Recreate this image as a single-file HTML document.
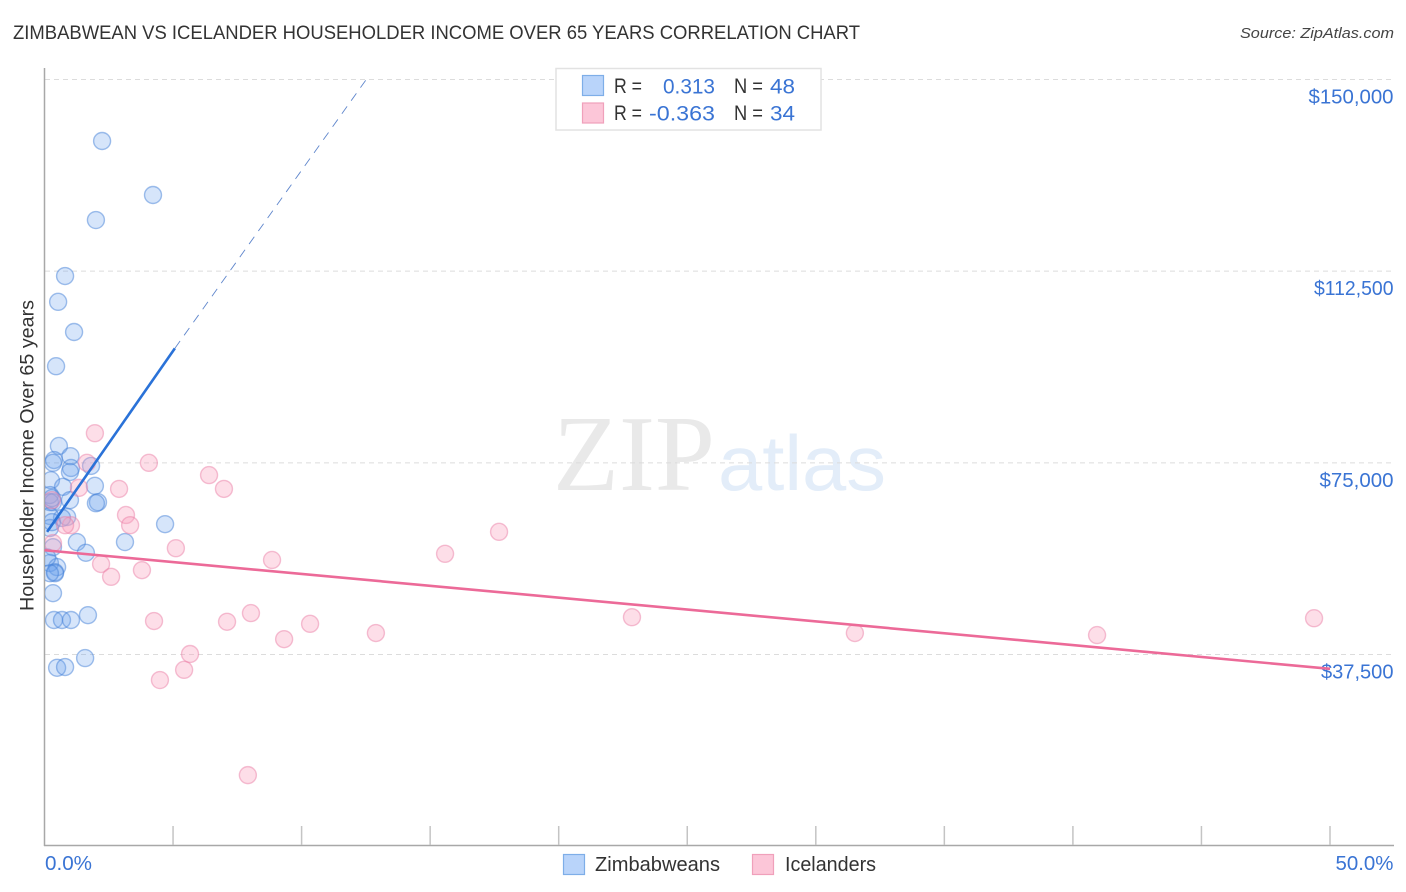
<!DOCTYPE html>
<html><head><meta charset="utf-8"><title>Zimbabwean vs Icelander Householder Income</title>
<style>
html,body{margin:0;padding:0;background:#fff}
svg{display:block;font-family:"Liberation Sans",sans-serif}
</style></head>
<body>
<svg id="chart" width="1406" height="892" viewBox="0 0 1406 892" xmlns="http://www.w3.org/2000/svg">
<defs><clipPath id="plot-clip"><rect x="45" y="60" width="1350" height="785"/></clipPath></defs>
<text x="13" y="39" font-size="19" fill="#333" textLength="847" lengthAdjust="spacingAndGlyphs">ZIMBABWEAN VS ICELANDER HOUSEHOLDER INCOME OVER 65 YEARS CORRELATION CHART</text>
<text x="1394" y="38" font-size="15" font-style="italic" fill="#444" text-anchor="end" textLength="154" lengthAdjust="spacingAndGlyphs">Source: ZipAtlas.com</text>
<text x="553" y="490" font-size="108" fill="#e9e9e9" font-family="'Liberation Serif',serif" textLength="162" lengthAdjust="spacingAndGlyphs">ZIP</text>
<text x="718" y="490" font-size="78" fill="#e3edf9" textLength="168" lengthAdjust="spacingAndGlyphs">atlas</text>
<g id="grid"></g>
<g id="axes"></g>
<g id="blue" clip-path="url(#plot-clip)"></g>
<g id="pink" clip-path="url(#plot-clip)"></g>
<g id="trends"></g>
<text transform="translate(33.5,611) rotate(-90)" font-size="19" fill="#333" textLength="311" lengthAdjust="spacingAndGlyphs">Householder Income Over 65 years</text>
<g>
<rect x="556" y="68.5" width="265" height="61.5" fill="#fff" stroke="#e2e2e2" stroke-width="1.5"/>
<rect x="582.5" y="75.5" width="21" height="20" fill="#b9d4fa" stroke="#7eaee8" stroke-width="1.2"/>
<rect x="582.5" y="103" width="21" height="20" fill="#fcc6d8" stroke="#f0a0bb" stroke-width="1.2"/>
<g font-size="21" fill="#333">
<text x="614" y="93" textLength="28" lengthAdjust="spacingAndGlyphs">R =</text>
<text x="614" y="120" textLength="28" lengthAdjust="spacingAndGlyphs">R =</text>
<text x="734" y="93" textLength="29" lengthAdjust="spacingAndGlyphs">N =</text>
<text x="734" y="120" textLength="29" lengthAdjust="spacingAndGlyphs">N =</text>
</g>
<g font-size="21.5" fill="#3a74d4">
<text x="663" y="93.5" textLength="52" lengthAdjust="spacingAndGlyphs">0.313</text>
<text x="649" y="120.5" textLength="66" lengthAdjust="spacingAndGlyphs">-0.363</text>
<text x="770" y="93.5" textLength="25" lengthAdjust="spacingAndGlyphs">48</text>
<text x="770" y="120.5" textLength="25" lengthAdjust="spacingAndGlyphs">34</text>
</g>
</g>
<g>
<rect x="563.5" y="854.5" width="21" height="20" fill="#b9d4fa" stroke="#7eaee8" stroke-width="1.2"/>
<text x="595" y="871" font-size="20" fill="#333" textLength="125" lengthAdjust="spacingAndGlyphs">Zimbabweans</text>
<rect x="752.5" y="854.5" width="21" height="20" fill="#fcc6d8" stroke="#f0a0bb" stroke-width="1.2"/>
<text x="785" y="871" font-size="20" fill="#333" textLength="91" lengthAdjust="spacingAndGlyphs">Icelanders</text>
</g>
<script>
const yTicks = [37.5, 75, 112.5, 150];
const yTickLabels = ['$37,500', '$75,000', '$112,500', '$150,000'];
const xTicks = [5, 10, 15, 20, 25, 30, 35, 40, 45, 50];
const xEndLabels = ['0.0%', '50.0%'];
const blueX = [2.24,4.22,2.0,0.80,0.53,1.15,0.45,0.56,1.01,0.37,0.33,1.03,0.99,1.81,0.25,0.72,1.96,2.08,2.0,0.99,0.21,0.21,0.33,0.29,0.88,0.68,0.21,0.21,0.29,4.69,1.26,3.13,1.61,0.33,0.21,0.49,0.41,0.41,0.21,0.33,0.37,0.68,1.03,1.69,1.58,0.49,0.80,0.1];
const blueY = [137.97,127.4,122.5,111.55,106.5,100.6,93.9,78.3,76.3,75.55,75.0,74.0,73.2,74.4,71.6,70.3,70.5,67.3,67.1,67.7,68.7,67.3,67.3,68.1,64.4,64.2,64.6,62.25,63.4,63.0,59.5,59.5,57.4,58.5,55.4,54.6,53.6,53.4,53.4,49.5,44.25,44.25,44.25,45.2,36.8,34.9,35.05,56.5];
const pinkX = [1.96,1.65,4.06,6.4,2.9,1.34,6.98,3.17,3.33,1.03,0.8,5.11,0.33,2.2,2.59,3.79,0.29,4.26,5.66,5.43,4.49,8.85,8.03,7.1,9.32,10.33,12.89,15.58,17.68,22.85,31.52,40.94,49.38,7.91];
const pinkY = [80.8,75,75,72.6,69.9,70.1,69.9,64.8,62.8,62.8,62.8,58.3,59.3,55.2,52.7,54.0,67.7,44.05,37.6,34.5,32.5,56,45.6,43.9,40.5,43.5,41.7,57.2,61.5,44.8,41.7,41.3,44.6,13.9];
const blueTrendX = [0.1, 5.07];
const blueTrendY = [61.5, 97.4];
const blueDashX = [5.07, 12.5];
const blueDashY = [97.4, 149.9];
const pinkTrendX = [0, 50];
const pinkTrendY = [57.9, 34.7];

const NS = 'http://www.w3.org/2000/svg';
const xs = v => 44.5 + v * 25.71;
const ys = v => 654.5 - (v - 37.5) * 5.1111;
function labelWidth(s) {
  let w = 18.5;
  for (const ch of s.replace(/[$,]/g, '')) {
    w += ch === '0' ? 12 : ch === '1' ? 8 : ch === '7' ? 9 : 10.5;
  }
  return w;
}
function mk(parent, tag, props, text) {
  const el = document.createElementNS(NS, tag);
  for (const k in props) el.setAttribute(k, props[k]);
  if (text !== undefined) el.textContent = text;
  document.getElementById(parent).appendChild(el);
  return el;
}
yTicks.forEach(function (t, i) {
  const g = mk('grid', 'line', {x1: 45, x2: 1394, y1: ys(t), y2: ys(t), stroke: '#dcdcdc', 'stroke-width': 1, 'stroke-dasharray': '5 4'});
  
  
  const l = mk('axes', 'text', {x: 1393.5, y: ys(t) + 24, 'font-size': 20.5, fill: '#3a74d4', 'text-anchor': 'end', textLength: labelWidth(yTickLabels[i]), lengthAdjust: 'spacingAndGlyphs'}, yTickLabels[i]);
  
  
});
const yAxis = mk('axes', 'line', {x1: 44.5, x2: 44.5, y1: 68, y2: 846, stroke: '#a8a8a8', 'stroke-width': 1.5});


const xAxis = mk('axes', 'line', {x1: 44, x2: 1394, y1: 845.5, y2: 845.5, stroke: '#a8a8a8', 'stroke-width': 1.5});


xTicks.forEach(function (t) {
  const k = mk('axes', 'line', {x1: xs(t), x2: xs(t), y1: 826, y2: 845, stroke: '#c4c4c4', 'stroke-width': 1.5});
  
  
});
const x0 = mk('axes', 'text', {x: 45, y: 870, 'font-size': 20, fill: '#3a74d4', textLength: 47, lengthAdjust: 'spacingAndGlyphs'}, xEndLabels[0]);


const x1 = mk('axes', 'text', {x: 1393.5, y: 870, 'font-size': 20, fill: '#3a74d4', 'text-anchor': 'end', textLength: 58, lengthAdjust: 'spacingAndGlyphs'}, xEndLabels[1]);


blueX.forEach(function (v, i) {
  const c = mk('blue', 'circle', {cx: xs(v), cy: ys(blueY[i]), r: 8.5, fill: 'rgba(105,160,235,0.27)', stroke: 'rgba(70,130,215,0.5)', 'stroke-width': 1.4});
  
  
});
pinkX.forEach(function (v, i) {
  const c = mk('pink', 'circle', {cx: xs(v), cy: ys(pinkY[i]), r: 8.5, fill: 'rgba(248,160,190,0.35)', stroke: 'rgba(235,125,165,0.48)', 'stroke-width': 1.4});
  
  
});
const tb = mk('trends', 'line', {x1: xs(blueTrendX[0]), y1: ys(blueTrendY[0]), x2: xs(blueTrendX[1]), y2: ys(blueTrendY[1]), stroke: '#2a72d8', 'stroke-width': 2.6});


const td = mk('trends', 'line', {x1: xs(blueDashX[0]), y1: ys(blueDashY[0]), x2: xs(blueDashX[1]), y2: ys(blueDashY[1]), stroke: '#5f86cc', 'stroke-width': 0.9, 'stroke-dasharray': '9 7'});


const tp = mk('trends', 'line', {x1: xs(pinkTrendX[0]), y1: ys(pinkTrendY[0]), x2: xs(pinkTrendX[1]), y2: ys(pinkTrendY[1]), stroke: '#ec6a98', 'stroke-width': 2.6});


</script>
</svg>
</body></html>
